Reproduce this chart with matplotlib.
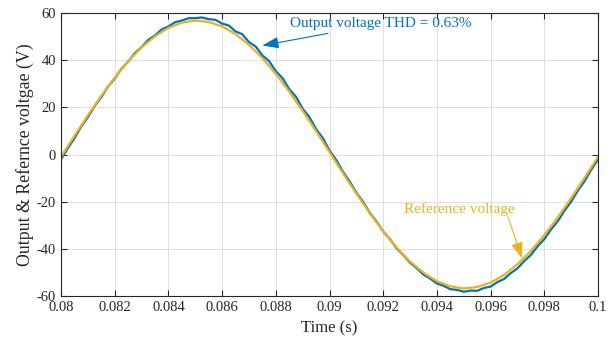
import numpy as np
import matplotlib.pyplot as plt

plt.rcParams['font.family'] = ['Liberation Serif', 'DejaVu Serif']
plt.rcParams['axes.unicode_minus'] = False

# Reference voltage, sampled every 0.0005 s
t_ref = np.linspace(0.08, 0.1, 41)
v_ref = [-1.0, 7.9, 16.6, 24.9, 32.6, 39.5, 45.4, 50.1, 53.7, 55.9,
         56.8, 56.2, 54.3, 51.1, 46.5, 40.9, 34.2, 26.7, 18.5, 9.9,
         1.0, -7.9, -16.6, -24.9, -32.6, -39.5, -45.4, -50.1, -53.7, -55.9,
         -56.8, -56.2, -54.3, -51.1, -46.5, -40.9, -34.2, -26.7, -18.5, -9.9,
         -1.0]

# Output voltage (with small ripple), sampled every 0.00025 s
t_out = np.linspace(0.08, 0.1, 81)
v_out = [-2.0, 2.6, 6.9, 11.8, 15.8, 20.5, 24.3, 28.8, 32.2, 36.3,
         39.4, 43.0, 45.5, 48.6, 50.5, 53.0, 54.3, 56.1, 56.8, 57.8,
         57.8, 58.1, 57.4, 57.1, 55.5, 54.7, 52.2, 51.0, 47.7, 45.8,
         42.0, 39.6, 35.3, 32.4, 27.7, 24.5, 19.4, 15.9, 10.8, 7.0,
         1.7, -2.3, -7.3, -11.4, -16.2, -20.1, -24.7, -28.4, -32.6, -35.9,
         -39.8, -42.6, -45.9, -48.2, -50.9, -52.6, -54.7, -55.7, -57.1, -57.4,
         -58.2, -57.7, -57.8, -56.6, -56.0, -54.1, -52.8, -50.3, -48.3, -45.2,
         -42.6, -38.9, -35.9, -31.8, -28.3, -23.9, -20.0, -15.3, -11.3, -6.4,
         -2.2]

xticks = [0.08, 0.082, 0.084, 0.086, 0.088, 0.09, 0.092, 0.094, 0.096, 0.098, 0.1]
xticklabels = ['0.08', '0.082', '0.084', '0.086', '0.088', '0.09', '0.092', '0.094', '0.096', '0.098', '0.1']
yticks = [-60, -40, -20, 0, 20, 40, 60]

blue = '#0072BD'
orange = '#EDB120'

fig = plt.figure(figsize=(6.11, 3.38), dpi=100)
ax = fig.add_axes([61 / 611, 1 - 296 / 338, 537 / 611, 283 / 338])

ax.plot(t_out, v_out, color=blue, lw=1.6)
ax.plot(t_ref, v_ref, color=orange, lw=1.6)

ax.set_xlim(0.08, 0.1)
ax.set_ylim(-60, 60)
ax.set_xticks(xticks)
ax.set_xticklabels(xticklabels)
ax.set_yticks(yticks)
ax.grid(True, color='#dedede', lw=0.7)
ax.set_axisbelow(True)
ax.tick_params(direction='in', top=True, right=True, labelsize=10.5, colors='#262626', length=4)
for s in ax.spines.values():
    s.set_color('#262626')
    s.set_linewidth(0.8)

ax.set_xlabel('Time (s)', fontsize=12, color='#262626', labelpad=5)
ax.set_ylabel('Output & Refernce voltgae (V)', fontsize=12.8, color='#262626', labelpad=2)

head = '-|>,head_length=0.9,head_width=0.32'
ax.annotate('Output voltage THD = 0.63%', xy=(0.0875, 46.2), xytext=(0.08853, 55.5),
            color=blue, fontsize=11, va='center', ha='left',
            arrowprops=dict(arrowstyle=head, color=blue, lw=0.8, shrinkA=2, shrinkB=0))
ax.annotate('Reference voltage', xy=(0.09717, -44.1), xytext=(0.09277, -23.3),
            color=orange, fontsize=11, va='center', ha='left')
ax.annotate('', xy=(0.09717, -44.1), xytext=(0.09665, -26.4),
            arrowprops=dict(arrowstyle=head, color=orange, lw=0.8, shrinkA=0, shrinkB=0,
                            mutation_scale=11))

fig.savefig('out.png', dpi=100)
